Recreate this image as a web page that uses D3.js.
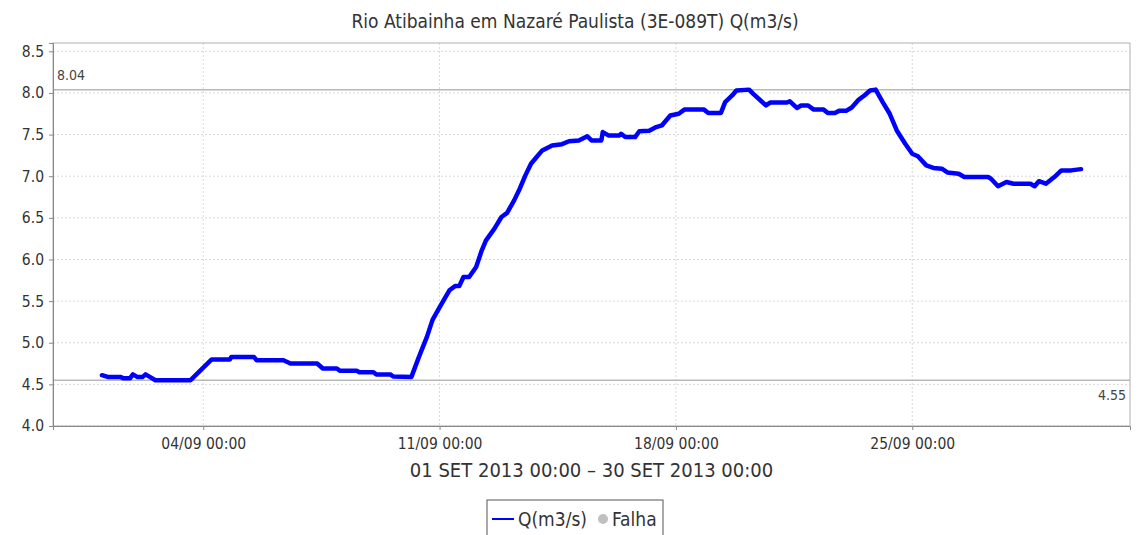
<!DOCTYPE html>
<html>
<head>
<meta charset="utf-8">
<script src="https://cdn.jsdelivr.net/npm/d3@7"></script>
<style>
  body { margin: 0; background: #fff; }
  text { font-family: "DejaVu Sans Condensed", "DejaVu Sans", sans-serif; }
</style>
</head>
<body>
<script>
// Chart data
const chartTitle = "Rio Atibainha em Nazaré Paulista (3E-089T) Q(m3/s)";
const axisTitle = "01 SET 2013 00:00 – 30 SET 2013 00:00";
const legendItems = ["Q(m3/s)", "Falha"];

const times = [
  "2013-09-01 00:00","2013-09-01 04:00","2013-09-01 13:00","2013-09-01 15:00","2013-09-01 20:00","2013-09-01 22:00",
  "2013-09-02 01:00","2013-09-02 05:00","2013-09-02 07:00","2013-09-02 10:00","2013-09-02 14:00","2013-09-03 15:00",
  "2013-09-04 06:00","2013-09-04 19:00","2013-09-04 20:00","2013-09-05 12:00","2013-09-05 14:00","2013-09-06 09:00",
  "2013-09-06 14:00","2013-09-07 09:00","2013-09-07 13:00","2013-09-07 23:00","2013-09-08 01:00","2013-09-08 13:00",
  "2013-09-08 15:00","2013-09-09 01:00","2013-09-09 03:00","2013-09-09 13:00","2013-09-09 15:00","2013-09-10 04:00",
  "2013-09-10 09:00","2013-09-10 15:00","2013-09-10 19:00","2013-09-11 01:00","2013-09-11 07:00","2013-09-11 11:00",
  "2013-09-11 14:00","2013-09-11 17:00","2013-09-11 21:00","2013-09-12 02:00","2013-09-12 06:00","2013-09-12 09:00",
  "2013-09-12 15:00","2013-09-12 20:00","2013-09-13 00:00","2013-09-13 05:00","2013-09-13 09:00","2013-09-13 13:00",
  "2013-09-13 17:00","2013-09-13 21:00","2013-09-14 01:00","2013-09-14 08:00","2013-09-14 15:00","2013-09-14 20:00",
  "2013-09-15 03:00","2013-09-15 09:00","2013-09-15 12:00","2013-09-15 19:00","2013-09-15 20:00","2013-09-16 00:00",
  "2013-09-16 08:00","2013-09-16 09:00","2013-09-16 12:00","2013-09-16 19:00","2013-09-16 22:00","2013-09-17 05:00",
  "2013-09-17 10:00","2013-09-17 14:00","2013-09-17 20:00","2013-09-18 02:00","2013-09-18 06:00","2013-09-18 20:00",
  "2013-09-18 23:00","2013-09-19 08:00","2013-09-19 11:00","2013-09-19 16:00","2013-09-19 19:00","2013-09-20 04:00",
  "2013-09-20 07:00","2013-09-20 16:00","2013-09-20 19:00","2013-09-21 07:00","2013-09-21 09:00","2013-09-21 14:00",
  "2013-09-21 17:00","2013-09-21 22:00","2013-09-22 02:00","2013-09-22 09:00","2013-09-22 12:00","2013-09-22 17:00",
  "2013-09-22 20:00","2013-09-23 01:00","2013-09-23 05:00","2013-09-23 10:00","2013-09-23 14:00","2013-09-23 18:00",
  "2013-09-23 22:00","2013-09-24 03:00","2013-09-24 08:00","2013-09-24 13:00","2013-09-24 19:00","2013-09-25 00:00",
  "2013-09-25 04:00","2013-09-25 10:00","2013-09-25 15:00","2013-09-25 21:00","2013-09-26 01:00","2013-09-26 09:00",
  "2013-09-26 13:00","2013-09-27 06:00","2013-09-27 08:00","2013-09-27 13:00","2013-09-27 19:00","2013-09-28 00:00",
  "2013-09-28 12:00","2013-09-28 15:00","2013-09-28 18:00","2013-09-28 23:00","2013-09-29 05:00","2013-09-29 10:00",
  "2013-09-29 17:00","2013-09-30 00:00"
];

const flows = [
  4.61, 4.59, 4.59, 4.575, 4.575, 4.62,
  4.59, 4.59, 4.62, 4.59, 4.55, 4.55,
  4.80, 4.80, 4.83, 4.83, 4.79, 4.79,
  4.75, 4.75, 4.69, 4.69, 4.665, 4.665,
  4.645, 4.645, 4.62, 4.62, 4.595, 4.59,
  4.815, 5.07, 5.275, 5.455, 5.63, 5.68,
  5.68, 5.79, 5.79, 5.91, 6.11, 6.23,
  6.37, 6.51, 6.56, 6.71, 6.85, 7.01,
  7.15, 7.23, 7.31, 7.37, 7.385, 7.42,
  7.43, 7.48, 7.43, 7.43, 7.53, 7.49,
  7.49, 7.51, 7.47, 7.47, 7.54, 7.545,
  7.59, 7.61, 7.73, 7.75, 7.80, 7.80,
  7.76, 7.76, 7.89, 7.97, 8.03, 8.04,
  7.99, 7.85, 7.885, 7.885, 7.90, 7.82,
  7.85, 7.85, 7.80, 7.80, 7.76, 7.76,
  7.785, 7.785, 7.825, 7.92, 7.97, 8.03,
  8.04, 7.89, 7.75, 7.55, 7.39, 7.27,
  7.24, 7.13, 7.10, 7.09, 7.045, 7.03,
  6.99, 6.99, 6.97, 6.88, 6.93, 6.91,
  6.91, 6.88, 6.94, 6.91, 6.99, 7.07,
  7.07, 7.085
];

const yTicks = [4.0, 4.5, 5.0, 5.5, 6.0, 6.5, 7.0, 7.5, 8.0, 8.5];
const xTicks = ["2013-09-04 00:00", "2013-09-11 00:00", "2013-09-18 00:00", "2013-09-25 00:00"];
const maxFlow = 8.04;
const minFlow = 4.55;

// Layout
const width = 1138;
const height = 535;
const plot = {left: 53, right: 1130, top: 43, bottom: 426};

const parse = d3.timeParse("%Y-%m-%d %H:%M");
const data = times.map((t, i) => ({date: parse(t), value: flows[i]}));

const svg = d3.select('body')
  .append('svg')
  .attr('width', width)
  .attr('height', height);

// Scales (time axis has ~5% margin on both sides)
const t0 = data[0].date, t1 = data[data.length - 1].date;
const pad = (t1 - t0) * 0.05;
const xScale = d3.scaleTime()
  .domain([new Date(+t0 - pad), new Date(+t1 + pad)])
  .range([plot.left, plot.right]);

const yScale = d3.scaleLinear()
  .domain([4.0, 8.6])
  .range([plot.bottom, plot.top]);

// Grid
const grid = svg.append('g').classed('grid', true);
grid.selectAll('line.h')
  .data(yTicks)
  .join('line')
  .attr('x1', plot.left).attr('x2', plot.right)
  .attr('y1', d => yScale(d)).attr('y2', d => yScale(d))
  .attr('stroke', '#d8d8d8').attr('stroke-dasharray', '2,2');
grid.selectAll('line.v')
  .data(xTicks.map(parse))
  .join('line')
  .attr('x1', d => xScale(d)).attr('x2', d => xScale(d))
  .attr('y1', plot.top).attr('y2', plot.bottom)
  .attr('stroke', '#d8d8d8').attr('stroke-dasharray', '2,2');

// Plot outline
svg.append('rect')
  .attr('x', plot.left).attr('y', plot.top)
  .attr('width', plot.right - plot.left).attr('height', plot.bottom - plot.top)
  .attr('fill', 'none').attr('stroke', '#b0b0b0');

// Max / min markers
[maxFlow, minFlow].forEach(v => {
  svg.append('line')
    .attr('x1', plot.left).attr('x2', plot.right)
    .attr('y1', yScale(v)).attr('y2', yScale(v))
    .attr('stroke', '#b8b8b8').attr('stroke-width', 1.5);
});
svg.append('text')
  .attr('x', plot.left + 4).attr('y', yScale(maxFlow) - 10)
  .attr('font-size', 14).attr('fill', '#444')
  .text(maxFlow.toFixed(2));
svg.append('text')
  .attr('x', plot.right - 4).attr('y', yScale(minFlow) + 20)
  .attr('text-anchor', 'end')
  .attr('font-size', 14).attr('fill', '#444')
  .text(minFlow.toFixed(2));

// Axes
const yAxis = d3.axisLeft(yScale)
  .tickValues(yTicks)
  .tickFormat(d3.format('.1f'))
  .tickSize(4)
  .tickPadding(5);
const gy = svg.append('g')
  .attr('transform', 'translate(' + plot.left + ',0)')
  .call(yAxis);

const xAxis = d3.axisBottom(xScale)
  .tickValues(xTicks.map(parse))
  .tickFormat(d3.timeFormat('%d/%m %H:%M'))
  .tickSize(4)
  .tickPadding(8);
const gx = svg.append('g')
  .attr('transform', 'translate(0,' + plot.bottom + ')')
  .call(xAxis);

[gx, gy].forEach(g => {
  g.select('.domain').attr('stroke', '#888');
  g.selectAll('.tick line').attr('stroke', '#888');
  g.selectAll('.tick text')
    .attr('font-family', '"DejaVu Sans Condensed", "DejaVu Sans", sans-serif')
    .attr('font-size', 15.5).attr('fill', '#333');
});

// Series line
const line = d3.line()
  .x(d => xScale(d.date))
  .y(d => yScale(d.value));
svg.append('path')
  .datum(data)
  .attr('d', line)
  .attr('fill', 'none')
  .attr('stroke', '#0000ff')
  .attr('stroke-width', 4.5)
  .attr('stroke-linejoin', 'round')
  .attr('stroke-linecap', 'round');

// Titles
svg.append('text')
  .attr('x', 575).attr('y', 28)
  .attr('text-anchor', 'middle')
  .attr('font-size', 19).attr('fill', '#333')
  .text(chartTitle);
svg.append('text')
  .attr('x', (plot.left + plot.right) / 2).attr('y', 477)
  .attr('text-anchor', 'middle')
  .attr('font-size', 20).attr('fill', '#333')
  .text(axisTitle);

// Legend
const legend = svg.append('g').attr('transform', 'translate(487,500)');
legend.append('rect')
  .attr('width', 176).attr('height', 40)
  .attr('fill', '#fff').attr('stroke', '#555');
legend.append('line')
  .attr('x1', 5).attr('x2', 27).attr('y1', 19).attr('y2', 19)
  .attr('stroke', '#0000ff').attr('stroke-width', 2);
legend.append('text')
  .attr('x', 31).attr('y', 26)
  .attr('font-size', 19).attr('fill', '#333')
  .text(legendItems[0]);
legend.append('circle')
  .attr('cx', 116).attr('cy', 19).attr('r', 5)
  .attr('fill', '#c0c0c0');
legend.append('text')
  .attr('x', 125).attr('y', 26)
  .attr('font-size', 19).attr('fill', '#333')
  .text(legendItems[1]);
</script>
</body>
</html>
